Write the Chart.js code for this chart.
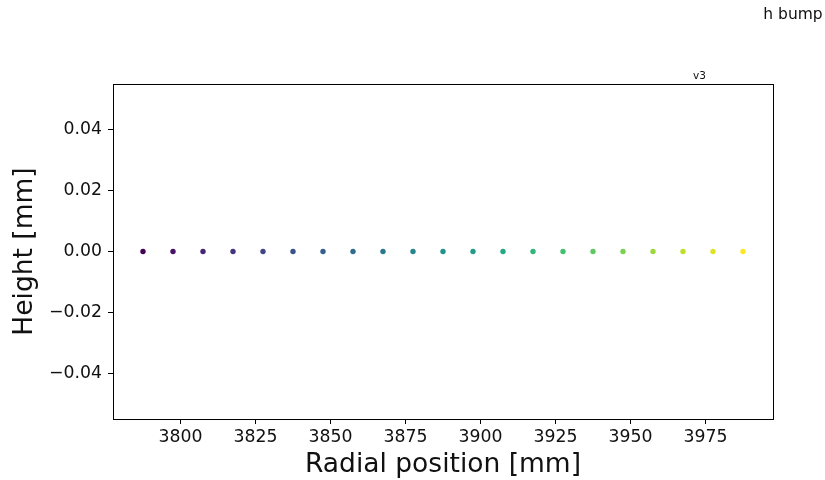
<!DOCTYPE html>
<html lang="en">
<head>
    <meta charset="UTF-8">
    <title>h bump</title>
    <script src="https://cdn.jsdelivr.net/npm/chart.js"></script>
    <style>
        html, body {
            margin: 0;
            padding: 0;
            background: #fff;
        }
        canvas {
            display: block;
        }
    </style>
</head>
<body>
    <canvas id="bumpChart" width="825" height="480"></canvas>

    <script>
        // Datos: posición radial y altura de cada punto
        const radialPos = [3787.5, 3797.5, 3807.5, 3817.5, 3827.5, 3837.5, 3847.5, 3857.5, 3867.5, 3877.5,
                           3887.5, 3897.5, 3907.5, 3917.5, 3927.5, 3937.5, 3947.5, 3957.5, 3967.5, 3977.5, 3987.5];
        const heights = [0, 0, 0, 0, 0, 0, 0, 0, 0, 0, 0, 0, 0, 0, 0, 0, 0, 0, 0, 0, 0];
        const xTicks = [3800, 3825, 3850, 3875, 3900, 3925, 3950, 3975];
        const yTicks = [-0.04, -0.02, 0.00, 0.02, 0.04];

        const xMin = 3777.5, xMax = 3997.5;
        const yMin = -0.055, yMax = 0.055;

        // Mapa de color viridis (paradas cada 0.1)
        const viridisStops = ['#440154', '#482475', '#414487', '#355f8d', '#2a788e', '#21918c',
                              '#22a884', '#44bf70', '#7ad151', '#bddf26', '#fde725'];

        function hexToRgb(h) {
            return [parseInt(h.slice(1, 3), 16), parseInt(h.slice(3, 5), 16), parseInt(h.slice(5, 7), 16)];
        }

        function viridis(t) {
            const pos = Math.min(Math.max(t, 0), 1) * (viridisStops.length - 1);
            const i = Math.min(Math.floor(pos), viridisStops.length - 2);
            const f = pos - i;
            const a = hexToRgb(viridisStops[i]), b = hexToRgb(viridisStops[i + 1]);
            const c = a.map((v, k) => Math.round(v + (b[k] - v) * f));
            return `rgb(${c[0]}, ${c[1]}, ${c[2]})`;
        }

        const rMin = Math.min(...radialPos), rMax = Math.max(...radialPos);
        const pointColors = radialPos.map(r => viridis((r - rMin) / (rMax - rMin)));

        const fontFamily = '"DejaVu Sans", sans-serif';
        const textColor = '#111';

        // Marco completo del área y textos superiores
        const framePlugin = {
            id: 'frame',
            afterDraw(chart) {
                const { ctx, chartArea: a } = chart;
                ctx.save();
                ctx.strokeStyle = '#000';
                ctx.lineWidth = 1;
                ctx.strokeRect(Math.round(a.left) + 0.5, Math.round(a.top) + 0.5,
                               Math.round(a.right - a.left), Math.round(a.bottom - a.top));
                ctx.fillStyle = textColor;
                ctx.textAlign = 'center';
                ctx.textBaseline = 'alphabetic';
                ctx.font = '15.5px ' + fontFamily;
                ctx.fillText('h bump', 793, 19);
                ctx.font = '10.5px ' + fontFamily;
                ctx.fillText('v3', 699.5, 79);
                ctx.restore();
            }
        };

        function fmtTick(v) {
            return v.toFixed(2).replace('-', '\u2212');
        }

        const ctx = document.getElementById('bumpChart').getContext('2d');
        const chart = new Chart(ctx, {
            type: 'scatter',
            data: {
                datasets: [{
                    data: radialPos.map((r, i) => ({ x: r, y: heights[i] })),
                    pointBackgroundColor: pointColors,
                    pointBorderWidth: 0,
                    pointRadius: 2.7,
                    pointHoverRadius: 2.7
                }]
            },
            options: {
                responsive: false,
                animation: false,
                devicePixelRatio: 1,
                layout: { padding: { top: 84, right: 52, left: 0, bottom: 0 } },
                plugins: {
                    legend: { display: false },
                    tooltip: { enabled: false }
                },
                scales: {
                    x: {
                        type: 'linear',
                        min: xMin,
                        max: xMax,
                        afterBuildTicks: s => { s.ticks = xTicks.map(v => ({ value: v })); },
                        afterFit: s => { s.height = 61; },
                        grid: { drawOnChartArea: false, drawTicks: true, tickLength: 5, color: '#000' },
                        border: { display: true, color: '#000' },
                        ticks: {
                            color: textColor,
                            padding: 3,
                            maxRotation: 0,
                            font: { family: fontFamily, size: 17.3 },
                            callback: v => String(v)
                        },
                        title: {
                            display: true,
                            text: 'Radial position [mm]',
                            color: textColor,
                            font: { family: fontFamily, size: 26.5, lineHeight: 1.05 },
                            padding: { top: 0, bottom: 0.5 }
                        }
                    },
                    y: {
                        min: yMin,
                        max: yMax,
                        afterBuildTicks: s => { s.ticks = yTicks.map(v => ({ value: v })); },
                        afterFit: s => { s.width = 113; },
                        grid: { drawOnChartArea: false, drawTicks: true, tickLength: 5, color: '#000' },
                        border: { display: true, color: '#000' },
                        ticks: {
                            color: textColor,
                            padding: 6,
                            font: { family: fontFamily, size: 17.3 },
                            callback: v => fmtTick(v)
                        },
                        title: {
                            display: true,
                            text: 'Height [mm]',
                            color: textColor,
                            font: { family: fontFamily, size: 26.5 },
                            padding: { top: 9.5, bottom: 0 }
                        }
                    }
                }
            },
            plugins: [framePlugin]
        });
    </script>
</body>
</html>
